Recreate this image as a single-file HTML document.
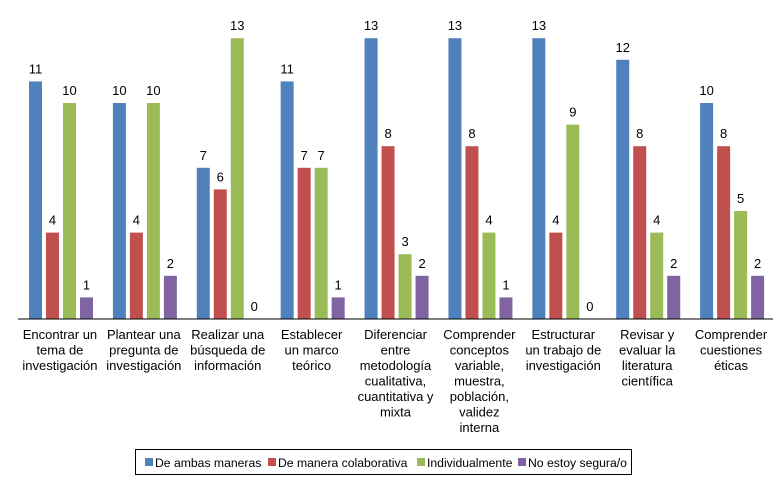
<!DOCTYPE html>
<html><head><meta charset="utf-8"><style>
body{margin:0;background:#fff;width:777px;height:479px;overflow:hidden;font-family:"Liberation Sans",Arial,sans-serif}
svg text{font-family:"Liberation Sans",Arial,sans-serif;fill:#000}
</style></head><body>
<svg id="c" width="777" height="479"></svg>
<script>
const categories=[["Encontrar un","tema de","investigación"],["Plantear una","pregunta de","investigación"],["Realizar una","búsqueda de","información"],["Establecer","un marco","teórico"],["Diferenciar","entre","metodología","cualitativa,","cuantitativa y","mixta"],["Comprender","conceptos","variable,","muestra,","población,","validez","interna"],["Estructurar","un trabajo de","investigación"],["Revisar y","evaluar la","literatura","científica"],["Comprender","cuestiones","éticas"]];
const seriesNames=["De ambas maneras","De manera colaborativa","Individualmente","No estoy segura/o"];
const colors=["#4f81bd","#c0504d","#9bbb59","#8064a2"];
const s1=[11,10,7,11,13,13,13,12,10];
const s2=[4,4,6,7,8,8,4,8,8];
const s3=[10,10,13,7,3,4,9,4,5];
const s4=[1,2,0,1,2,1,0,2,2];
const series=[s1,s2,s3,s4];
const NS="http://www.w3.org/2000/svg";
const svg=document.getElementById('c');
const x0=18,x1=773,base=319,unit=21.6;
const cw=(x1-x0)/categories.length;
const y=v=>base-v*unit;
function mk(t,a){const e=document.createElementNS(NS,t);for(const k in a)e.setAttribute(k,a[k]);svg.appendChild(e);return e;}
series.forEach((s,si)=>{s.forEach((v,ci)=>{
  const bx=x0+ci*cw+11+si*17;
  const r=mk('rect',{x:bx,y:y(v),width:13,height:v*unit,fill:colors[si]});
  
  
  const t=mk('text',{x:bx+6.5,y:y(v)-8,'text-anchor':'middle','font-size':13});
  t.textContent=v;
  
  
});});
const ax=mk('line',{x1:x0,x2:x1,y1:base,y2:base,stroke:'#000','stroke-width':1});


categories.forEach((lines,ci)=>{
  const t=mk('text',{x:x0+ci*cw+cw/2,y:339,'text-anchor':'middle','font-size':13});
  
  
  lines.forEach((l,i)=>{const ts=document.createElementNS(NS,'tspan');ts.setAttribute('x',x0+ci*cw+cw/2);ts.setAttribute('dy',i?15.5:0);ts.textContent=l;t.appendChild(ts);});
});
const lg=mk('rect',{x:135.5,y:449.5,width:496,height:25,fill:'none',stroke:'#000'});


const lx=[145,268,417,518];
seriesNames.forEach((n,i)=>{
  const r=mk('rect',{x:lx[i],y:458,width:8,height:8,fill:colors[i]});
  
  
  const t=mk('text',{x:lx[i]+10,y:467,'font-size':12.2});
  t.textContent=n;
  
  
});
</script>
</body></html>
